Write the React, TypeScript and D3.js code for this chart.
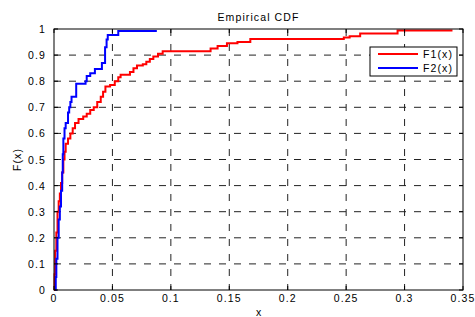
import React, { useEffect, useRef } from 'react';
import * as d3 from 'd3';

// F1(x) step points (x where the step happens, level after it)
const f1X = [0, 0.0005, 0.001, 0.002, 0.003, 0.004, 0.005, 0.006, 0.007, 0.008, 0.009, 0.01, 0.012, 0.014, 0.016, 0.018, 0.021, 0.025, 0.028, 0.031, 0.034, 0.037, 0.04, 0.042, 0.044, 0.048, 0.052, 0.055, 0.057, 0.065, 0.068, 0.071, 0.076, 0.079, 0.082, 0.085, 0.089, 0.093, 0.134, 0.14, 0.148, 0.157, 0.168, 0.248, 0.253, 0.262, 0.294, 0.341];
const f1Y = [0, 0.06, 0.15, 0.22, 0.3, 0.34, 0.37, 0.41, 0.45, 0.5, 0.53, 0.56, 0.58, 0.6, 0.62, 0.64, 0.655, 0.665, 0.675, 0.69, 0.7, 0.72, 0.74, 0.76, 0.78, 0.785, 0.8, 0.815, 0.825, 0.835, 0.85, 0.86, 0.865, 0.875, 0.885, 0.895, 0.905, 0.915, 0.925, 0.935, 0.945, 0.95, 0.962, 0.967, 0.972, 0.983, 0.994, 0.994];

// F2(x)
const f2X = [0.001, 0.0015, 0.002, 0.003, 0.004, 0.005, 0.006, 0.007, 0.0075, 0.008, 0.009, 0.01, 0.012, 0.013, 0.014, 0.015, 0.019, 0.027, 0.028, 0.031, 0.035, 0.041, 0.0437, 0.045, 0.046, 0.055, 0.088];
const f2Y = [0, 0.05, 0.12, 0.2, 0.27, 0.32, 0.38, 0.45, 0.52, 0.58, 0.62, 0.64, 0.68, 0.7, 0.72, 0.74, 0.79, 0.8, 0.82, 0.83, 0.847, 0.87, 0.93, 0.96, 0.977, 0.992, 0.992];

const xTicks = [0, 0.05, 0.1, 0.15, 0.2, 0.25, 0.3, 0.35];
const yTicks = [0, 0.1, 0.2, 0.3, 0.4, 0.5, 0.6, 0.7, 0.8, 0.9, 1];

const seriesNames = ['F1(x)', 'F2(x)'];
const seriesColors = ['#ff0000', '#0000ff'];

const App = () => {
  const svgRef = useRef<SVGSVGElement>(null);

  useEffect(() => {
    const svg = d3.select(svgRef.current);
    svg.selectAll('*').remove();

    const width = 475, height = 317;
    const margin = { top: 29, right: 12, bottom: 27, left: 54 };
    const w = width - margin.left - margin.right;
    const h = height - margin.top - margin.bottom;
    const font = 'Liberation Sans, Arial, sans-serif';
    const fs = 10.5;
    const ls = 1.1;

    svg.attr('width', width).attr('height', height);

    const x = d3.scaleLinear().domain([0, 0.35]).range([0, w]);
    const y = d3.scaleLinear().domain([0, 1]).range([h, 0]);

    const g = svg.append('g').attr('transform', `translate(${margin.left},${margin.top})`);

    g.append('rect').attr('width', w).attr('height', h).attr('fill', '#fff');

    // grid
    g.selectAll('.gx')
      .data(xTicks.slice(1, -1))
      .enter()
      .append('line')
      .attr('x1', d => x(d)).attr('x2', d => x(d))
      .attr('y1', 0).attr('y2', h)
      .attr('stroke', '#222').attr('stroke-dasharray', '7,8');
    g.selectAll('.gy')
      .data(yTicks.slice(1, -1))
      .enter()
      .append('line')
      .attr('x1', 0).attr('x2', w)
      .attr('y1', d => y(d)).attr('y2', d => y(d))
      .attr('stroke', '#222').attr('stroke-dasharray', '7,8');

    // curves
    const series = [
      { xs: f1X, ys: f1Y },
      { xs: f2X, ys: f2Y },
    ];
    const stairs = d3.line<[number, number]>()
      .x(d => x(d[0]))
      .y(d => y(d[1]))
      .curve(d3.curveStepAfter);
    series.forEach((s, k) => {
      const pts: [number, number][] = s.xs.map((v, i) => [v, s.ys[i]]);
      g.append('path')
        .attr('d', stairs(pts))
        .attr('fill', 'none')
        .attr('stroke', seriesColors[k])
        .attr('stroke-width', 2);
    });

    // box
    g.append('rect').attr('width', w).attr('height', h)
      .attr('fill', 'none').attr('stroke', '#000').attr('stroke-width', 1);

    // inward ticks
    xTicks.forEach(t => {
      g.append('line').attr('x1', x(t)).attr('x2', x(t)).attr('y1', h).attr('y2', h - 4).attr('stroke', '#000');
      g.append('line').attr('x1', x(t)).attr('x2', x(t)).attr('y1', 0).attr('y2', 4).attr('stroke', '#000');
    });
    yTicks.forEach(t => {
      g.append('line').attr('x1', 0).attr('x2', 4).attr('y1', y(t)).attr('y2', y(t)).attr('stroke', '#000');
      g.append('line').attr('x1', w).attr('x2', w - 4).attr('y1', y(t)).attr('y2', y(t)).attr('stroke', '#000');
    });

    // tick labels
    g.selectAll('.xl')
      .data(xTicks)
      .enter()
      .append('text')
      .attr('x', d => x(d))
      .attr('y', h + 12)
      .attr('text-anchor', 'middle')
      .attr('font-family', font)
      .attr('font-size', fs)
      .attr('letter-spacing', ls)
      .text(d => String(d));
    g.selectAll('.yl')
      .data(yTicks)
      .enter()
      .append('text')
      .attr('x', -8)
      .attr('y', d => y(d) + 4)
      .attr('text-anchor', 'end')
      .attr('font-family', font)
      .attr('font-size', fs)
      .attr('letter-spacing', ls)
      .text(d => String(d));

    // title and axis labels
    svg.append('text')
      .attr('x', margin.left + w / 2)
      .attr('y', 21)
      .attr('text-anchor', 'middle')
      .attr('font-family', font)
      .attr('font-size', fs)
      .attr('letter-spacing', ls)
      .text('Empirical CDF');
    svg.append('text')
      .attr('x', margin.left + w / 2)
      .attr('y', 316)
      .attr('text-anchor', 'middle')
      .attr('font-family', font)
      .attr('font-size', fs)
      .text('x');
    svg.append('text')
      .attr('transform', `translate(21,${margin.top + h / 2}) rotate(-90)`)
      .attr('text-anchor', 'middle')
      .attr('font-family', font)
      .attr('font-size', fs)
      .attr('letter-spacing', ls)
      .text('F(x)');

    // legend
    const lg = svg.append('g').attr('transform', 'translate(370,47)');
    lg.append('rect').attr('width', 87).attr('height', 29)
      .attr('fill', '#fff').attr('stroke', '#000');
    seriesNames.forEach((name, i) => {
      lg.append('line')
        .attr('x1', 8).attr('x2', 48)
        .attr('y1', 7 + i * 14).attr('y2', 7 + i * 14)
        .attr('stroke', seriesColors[i]).attr('stroke-width', 2);
      lg.append('text')
        .attr('x', 53)
        .attr('y', 11 + i * 14)
        .attr('font-family', font)
        .attr('font-size', fs)
        .attr('letter-spacing', ls)
        .text(name);
    });
  }, []);

  return (
    <div style={{ position: 'absolute', left: 0, top: 0 }}>
      <svg ref={svgRef} />
    </div>
  );
};

export default App;
